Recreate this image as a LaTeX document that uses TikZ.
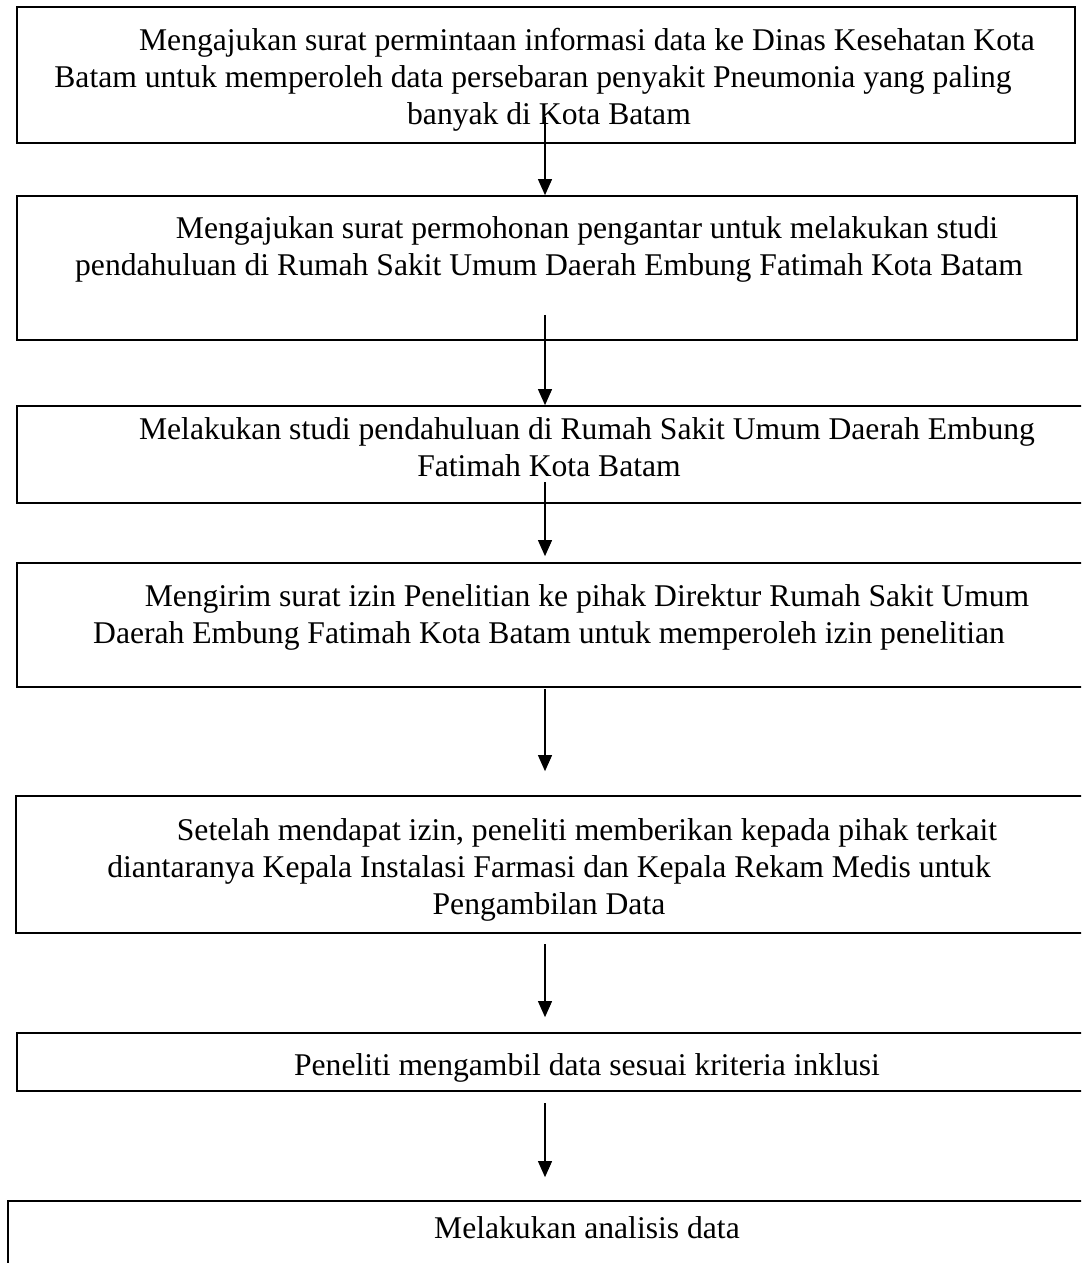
\documentclass[tikz,border=0pt]{standalone}
\usepackage{fontspec}
\setmainfont{Liberation Serif}
\usetikzlibrary{arrows.meta}
\newcommand{\firstindent}{\hspace*{1.52cm}}
\begin{document}
\begin{tikzpicture}[x=0.02cm,y=-0.02cm]
      \tikzstyle{stepbox}=[draw,line width=1pt,rectangle,inner sep=0pt]
      \tikzstyle{steptext}=[anchor=north,align=center,inner sep=0pt,
                            font=\fontsize{18}{21}\selectfont]
      \tikzstyle{flow}=[line width=0.6pt,
                        -{Triangle[length=0.32cm,width=0.28cm]}]
      \useasboundingbox (0,0) rectangle (1081,1263);
      \clip (0,0) rectangle (1081,1263);

      % the boxes
      \node[stepbox,minimum width=21.16cm,minimum height=2.72cm] (b1) at (546,75) {};
      \node[stepbox,minimum width=21.20cm,minimum height=2.88cm] (b2) at (547,268) {};
      \node[stepbox,minimum width=21.86cm,minimum height=1.94cm] (b3) at (563.5,454.5) {};
      \node[stepbox,minimum width=21.86cm,minimum height=2.48cm] (b4) at (563.5,625) {};
      \node[stepbox,minimum width=21.88cm,minimum height=2.74cm] (b5) at (563,864.5) {};
      \node[stepbox,minimum width=21.86cm,minimum height=1.16cm] (b6) at (563.5,1062) {};
      \node[stepbox,minimum width=22.04cm,minimum height=1.98cm] (b7) at (559,1250.5) {};

      % the texts
      \node[steptext] (t1) at (549,28) {\firstindent Mengajukan surat permintaan informasi data ke Dinas Kesehatan Kota\\
        Batam untuk memperoleh data persebaran penyakit Pneumonia yang paling\hspace*{0.64cm}\mbox{}\\
        banyak di Kota Batam};
      \node[steptext] (t2) at (549,216) {\firstindent Mengajukan surat permohonan pengantar untuk melakukan studi\\
        pendahuluan di Rumah Sakit Umum Daerah Embung Fatimah Kota Batam};
      \node[steptext] (t3) at (549,417) {\firstindent Melakukan studi pendahuluan di Rumah Sakit Umum Daerah Embung\\
        Fatimah Kota Batam};
      \node[steptext] (t4) at (549,584) {\firstindent Mengirim surat izin Penelitian ke pihak Direktur Rumah Sakit Umum\\
        Daerah Embung Fatimah Kota Batam untuk memperoleh izin penelitian};
      \node[steptext] (t5) at (549,818) {\firstindent Setelah mendapat izin, peneliti memberikan kepada pihak terkait\\
        diantaranya Kepala Instalasi Farmasi dan Kepala Rekam Medis untuk\\
        Pengambilan Data};
      \node[steptext] (t6) at (549,1053) {\firstindent Peneliti mengambil data sesuai kriteria inklusi};
      \node[steptext] (t7) at (549,1216) {\firstindent Melakukan analisis data};

      % the arrows
      \coordinate (s1) at (545,117);
      \coordinate (s2) at (545,315);
      \coordinate (s3) at (545,482);
      \coordinate (s4) at (545,689);
      \coordinate (s5) at (545,944);
      \coordinate (s6) at (545,1103);
      \draw[flow] (s1) -- (s1 |- b2.north);
      \draw[flow] (s2) -- (s2 |- b3.north);
      \draw[flow,shorten >=0.12cm] (s3) -- (s3 |- b4.north);
      \draw[flow,shorten >=0.48cm] (s4) -- (s4 |- b5.north);
      \draw[flow,shorten >=0.30cm] (s5) -- (s5 |- b6.north);
      \draw[flow,shorten >=0.46cm] (s6) -- (s6 |- b7.north);
\end{tikzpicture}
\end{document}
